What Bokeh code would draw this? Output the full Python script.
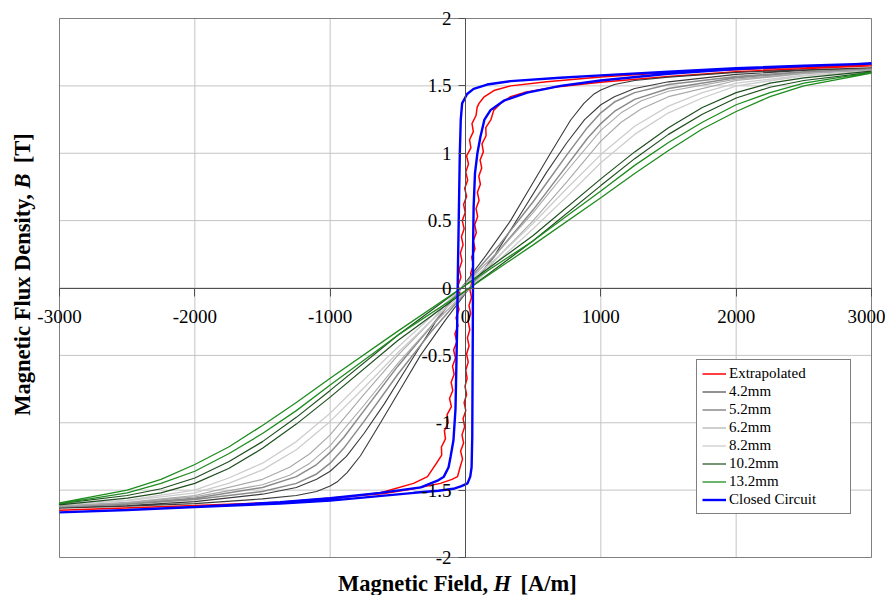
import math
from bokeh.plotting import figure
from bokeh.models import (FixedTicker, CustomJSTickFormatter, Label, Legend,
                          LegendItem, Range1d)
from bokeh.embed import file_html
from bokeh.resources import INLINE

# ---------------- data ----------------
x_ticks = [-3000, -2000, -1000, 0, 1000, 2000, 3000]
y_ticks = [-2, -1.5, -1, -0.5, 0, 0.5, 1, 1.5, 2]

series_names = ["Extrapolated", "4.2mm", "5.2mm", "6.2mm", "8.2mm",
                "10.2mm", "13.2mm", "Closed Circuit"]

# Extrapolated (red)
ext_desc_H = [3000, 2500, 2000, 1500, 1000, 600, 333, 210, 135, 100, 86,
              78, 48, 58, 30, 40, 8, 22, 2, 16, -6, 8, -14, -2, -24, -10, -30,
              -18, -38, -26, -46, -34, -54, -42, -62, -48, -70, -56, -78, -64,
              -88, -74, -96, -84, -106, -94, -118, -104, -136, -128, -156, -148,
              -178, -176, -214,
              -281, -384, -628, -1123, -2000, -3000]
ext_desc_B = [1.655, 1.64, 1.62, 1.60, 1.565, 1.53, 1.50, 1.465, 1.416, 1.37, 1.34,
              1.28, 1.22, 1.16, 1.10, 1.04, 0.98, 0.92, 0.86, 0.80, 0.74, 0.68,
              0.62, 0.56, 0.50, 0.44, 0.38, 0.32, 0.26, 0.20, 0.14, 0.08, 0.02,
              -0.04, -0.10, -0.16, -0.22, -0.28, -0.34, -0.40, -0.46, -0.52,
              -0.58, -0.64, -0.70, -0.76, -0.82, -0.88, -0.94, -1.00, -1.06,
              -1.12, -1.18, -1.24, -1.30,
              -1.40, -1.45, -1.52, -1.58, -1.615, -1.65]
ext_asc_H = [-3000, -2000, -1370, -600, -384, -185, -100, -59,
             -40, -22, -36, -14, -26, -6, -18, 2, -10, 8, -4, 12, 2, 20, 8, 26,
             14, 32, 20, 38, 26, 44, 32, 50, 38, 58, 46, 70, 58, 80, 68, 90, 78,
             100, 88, 110, 98, 120, 108, 132, 122, 152, 150, 188,
             209, 259, 333, 431, 653, 998, 1500, 2000, 3000]
ext_asc_B = [-1.65, -1.615, -1.59, -1.525, -1.49, -1.45, -1.42, -1.40,
             -1.33, -1.27, -1.21, -1.15, -1.09, -1.03, -0.97, -0.91, -0.85,
             -0.79, -0.73, -0.67, -0.61, -0.55, -0.49, -0.43, -0.37, -0.31,
             -0.25, -0.19, -0.13, -0.07, -0.01, 0.05, 0.11, 0.17, 0.23, 0.29,
             0.35, 0.41, 0.47, 0.53, 0.59, 0.65, 0.71, 0.77, 0.83, 0.89, 0.95,
             1.01, 1.07, 1.13, 1.19, 1.25,
             1.32, 1.37, 1.42, 1.45, 1.49, 1.527, 1.57, 1.605, 1.65]

# 4.2mm
g42_desc_H = [3000, 2500, 2000, 1500, 1250, 1100, 1000, 950, 875, 776, 628, 480,
              333, 150, -30, -220, -420, -600, -750, -880, -1000, -1100, -1250,
              -1500, -2000, -2500, -3000]
g42_desc_B = [1.635, 1.62, 1.60, 1.565, 1.54, 1.51, 1.47, 1.44, 1.37, 1.245, 1.0,
              0.75, 0.5, 0.24, 0, -0.25, -0.57, -0.86, -1.08, -1.25, -1.36,
              -1.42, -1.48, -1.53, -1.585, -1.615, -1.63]
g42_asc_H = [-3000, -2500, -2000, -1500, -1250, -1100, -1000, -950, -875, -776,
             -628, -480, -333, -150, 30, 220, 420, 600, 750, 880, 1000, 1100,
             1250, 1500, 2000, 2500, 3000]
g42_asc_B = [-1.635, -1.62, -1.60, -1.565, -1.54, -1.51, -1.47, -1.44, -1.37,
             -1.245, -1.0, -0.75, -0.5, -0.24, 0, 0.25, 0.57, 0.86, 1.08, 1.25,
             1.36, 1.42, 1.48, 1.53, 1.585, 1.615, 1.63]

# 5.2mm
g52_desc_H = [3000, 2500, 2000, 1500, 1250, 1100, 1000, 900, 750, 500, 250, -30,
              -250, -500, -750, -900, -1000, -1100, -1250, -1500, -2000, -2500, -3000]
g52_desc_B = [1.625, 1.605, 1.57, 1.51, 1.45, 1.38, 1.30, 1.19, 0.99, 0.64, 0.32,
              0, -0.28, -0.58, -0.91, -1.11, -1.22, -1.31, -1.40, -1.48, -1.56,
              -1.60, -1.62]
g52_asc_H = [-3000, -2500, -2000, -1500, -1250, -1100, -1000, -900, -750, -500,
             -250, 30, 250, 500, 750, 900, 1000, 1100, 1250, 1500, 2000, 2500, 3000]
g52_asc_B = [-1.625, -1.605, -1.57, -1.51, -1.45, -1.38, -1.30, -1.19, -0.99,
             -0.64, -0.32, 0, 0.28, 0.58, 0.91, 1.11, 1.22, 1.31, 1.40, 1.48,
             1.56, 1.60, 1.62]

# 6.2mm
g62_desc_H = [3000, 2500, 2000, 1500, 1300, 1150, 1000, 750, 500, 250, -30, -250,
              -500, -750, -1000, -1150, -1300, -1500, -2000, -2500, -3000]
g62_desc_B = [1.62, 1.595, 1.55, 1.46, 1.39, 1.30, 1.17, 0.87, 0.56, 0.28, 0,
              -0.24, -0.50, -0.79, -1.09, -1.23, -1.33, -1.42, -1.54, -1.59, -1.615]
g62_asc_H = [-3000, -2500, -2000, -1500, -1300, -1150, -1000, -750, -500, -250,
             30, 250, 500, 750, 1000, 1150, 1300, 1500, 2000, 2500, 3000]
g62_asc_B = [-1.62, -1.595, -1.55, -1.46, -1.39, -1.30, -1.17, -0.87, -0.56,
             -0.28, 0, 0.24, 0.50, 0.79, 1.09, 1.23, 1.33, 1.42, 1.54, 1.59, 1.615]

# 8.2mm
g82_desc_H = [3000, 2500, 2000, 1750, 1500, 1250, 1000, 750, 500, 250, -30, -250,
              -500, -750, -1000, -1250, -1500, -1750, -2000, -2500, -3000]
g82_desc_B = [1.61, 1.58, 1.52, 1.45, 1.35, 1.20, 0.99, 0.74, 0.48, 0.24, 0,
              -0.21, -0.44, -0.68, -0.93, -1.14, -1.30, -1.41, -1.50, -1.575, -1.605]
g82_asc_H = [-3000, -2500, -2000, -1750, -1500, -1250, -1000, -750, -500, -250,
             30, 250, 500, 750, 1000, 1250, 1500, 1750, 2000, 2500, 3000]
g82_asc_B = [-1.61, -1.58, -1.52, -1.45, -1.35, -1.20, -0.99, -0.74, -0.48,
             -0.24, 0, 0.21, 0.44, 0.68, 0.93, 1.14, 1.30, 1.41, 1.50, 1.575, 1.605]

# 10.2mm
g102_desc_H = [3000, 2500, 2250, 2000, 1750, 1500, 1250, 1000, 500, -30, -500,
               -1000, -1250, -1500, -1750, -2000, -2250, -2500, -3000]
g102_desc_B = [1.61, 1.56, 1.52, 1.45, 1.34, 1.19, 1.01, 0.81, 0.39, 0, -0.35,
               -0.76, -0.96, -1.14, -1.29, -1.41, -1.49, -1.54, -1.60]
g102_asc_H = [-3000, -2500, -2250, -2000, -1750, -1500, -1250, -1000, -500, 30,
              500, 1000, 1250, 1500, 1750, 2000, 2250, 2500, 3000]
g102_asc_B = [-1.61, -1.56, -1.52, -1.45, -1.34, -1.19, -1.01, -0.81, -0.39, 0,
              0.35, 0.76, 0.96, 1.14, 1.29, 1.41, 1.49, 1.54, 1.60]

# 13.2mm
g132_desc_H = [3000, 2500, 2250, 2000, 1750, 1500, 1250, 1000, 500, -30, -500,
               -1000, -1250, -1500, -1750, -2000, -2250, -2500, -3000]
g132_desc_B = [1.60, 1.52, 1.45, 1.36, 1.23, 1.08, 0.91, 0.72, 0.35, 0, -0.32,
               -0.67, -0.85, -1.02, -1.18, -1.31, -1.42, -1.50, -1.595]
g132_asc_H = [-3000, -2500, -2250, -2000, -1750, -1500, -1250, -1000, -500, 30,
              500, 1000, 1250, 1500, 1750, 2000, 2250, 2500, 3000]
g132_asc_B = [-1.60, -1.52, -1.45, -1.36, -1.23, -1.08, -0.91, -0.72, -0.35, 0,
              0.32, 0.67, 0.85, 1.02, 1.18, 1.31, 1.42, 1.50, 1.595]

# Closed circuit (blue)
cc_desc_H = [3000, 2500, 2000, 1500, 1000, 700, 333, 160, 60, 12, -25, -35, -42,
             -50, -55, -58, -62, -68, -74, -89, -110, -125, -160, -207, -330,
             -630, -1000, -1370, -2000, -2500, -3000]
cc_desc_B = [1.665, 1.65, 1.632, 1.605, 1.578, 1.56, 1.535, 1.51, 1.478, 1.44,
             1.37, 1.25, 1.0, 0.5, 0.2, 0, -0.3, -0.6, -0.9, -1.13, -1.25, -1.33,
             -1.40, -1.43, -1.48, -1.52, -1.56, -1.59, -1.625, -1.648, -1.665]
cc_asc_H = [-3000, -2500, -2000, -1370, -1000, -380, -200, -90, -30, 15, 35, 45,
            50, 52, 54, 55, 56, 60, 70, 88, 110, 140, 185, 283, 456, 702, 998,
            1500, 2000, 2500, 3000]
cc_asc_B = [-1.665, -1.648, -1.625, -1.60, -1.578, -1.52, -1.505, -1.49, -1.47,
            -1.45, -1.40, -1.33, -1.1, -0.7, -0.3, 0, 0.3, 0.6, 0.85, 1.0, 1.12,
            1.25, 1.32, 1.39, 1.45, 1.50, 1.54, 1.59, 1.625, 1.648, 1.665]

loops = [
    (ext_desc_H + ext_asc_H, ext_desc_B + ext_asc_B),
    (g42_desc_H + g42_asc_H, g42_desc_B + g42_asc_B),
    (g52_desc_H + g52_asc_H, g52_desc_B + g52_asc_B),
    (g62_desc_H + g62_asc_H, g62_desc_B + g62_asc_B),
    (g82_desc_H + g82_asc_H, g82_desc_B + g82_asc_B),
    (g102_desc_H + g102_asc_H, g102_desc_B + g102_asc_B),
    (g132_desc_H + g132_asc_H, g132_desc_B + g132_asc_B),
    (cc_desc_H + cc_asc_H, cc_desc_B + cc_asc_B),
]

# ---------------- styling ----------------
colors = ["#ff0000", "#3a3a3a", "#8a8a8a", "#a8a8a8", "#cdcdcd",
          "#1f4f1f", "#1e8c1e", "#0000ff"]
widths = [1.5, 1.1, 1.5, 1.1, 1.3, 1.2, 1.3, 2.4]
SERIF = "Liberation Serif"
TITLE_SIZE = "22.5px"

W, H = 885, 595
# plot area in pixels: left 59, right 871, top 18, bottom 557
PX_X = 812 / 6000.0
PX_Y = 539 / 4.0
x_lo = -3000 - 59 / PX_X
x_hi = 3000 + (W - 871) / PX_X
y_hi = 2 + 18 / PX_Y
y_lo = -2 - (H - 557) / PX_Y

p = figure(width=W, height=H, output_backend="svg", toolbar_location=None,
           x_range=Range1d(x_lo, x_hi), y_range=Range1d(y_lo, y_hi),
           min_border=0)
p.background_fill_color = "white"
p.border_fill_color = "white"
p.outline_line_color = None
p.grid.visible = False

# gridlines and plot-area border from the tick lists
nx, ny = len(x_ticks), len(y_ticks)
p.segment(x0=x_ticks, y0=[y_ticks[0]] * nx, x1=x_ticks, y1=[y_ticks[-1]] * nx,
          line_color="#c4c4c4", line_width=1)
p.segment(x0=[x_ticks[0]] * ny, y0=y_ticks, x1=[x_ticks[-1]] * ny, y1=y_ticks,
          line_color="#c4c4c4", line_width=1)
p.quad(left=[x_ticks[0]], right=[x_ticks[-1]], bottom=[y_ticks[0]], top=[y_ticks[-1]],
       fill_color=None, line_color="#808080", line_width=1)

# central axes
p.xaxis.fixed_location = 0
p.yaxis.fixed_location = 0
p.xaxis.bounds = (x_ticks[0], x_ticks[-1])
p.yaxis.bounds = (y_ticks[0], y_ticks[-1])
p.xaxis.ticker = FixedTicker(ticks=x_ticks)
p.yaxis.ticker = FixedTicker(ticks=y_ticks)
fmt = CustomJSTickFormatter(code="return String(tick)")
for ax in (p.xaxis[0], p.yaxis[0]):
    ax.formatter = fmt
    ax.axis_line_color = "#505050"
    ax.axis_line_width = 1
    ax.major_tick_line_color = "#505050"
    ax.major_tick_in = 0
    ax.minor_tick_line_color = None
    ax.major_label_text_font = SERIF
    ax.major_label_text_font_size = "19px"
    ax.major_label_text_color = "black"
p.xaxis.major_tick_out = 8
p.xaxis.major_label_standoff = 14
p.yaxis.major_tick_out = 7
p.yaxis.major_label_standoff = 7

items = []
for name, (hh, bb), c, w in zip(series_names, loops, colors, widths):
    r = p.line(hh, bb, line_color=c, line_width=w)
    items.append(LegendItem(label=name, renderers=[r]))

legend = Legend(items=items, location=(696, 81))
legend.border_line_color = "black"
legend.border_line_width = 1
legend.background_fill_color = "white"
legend.background_fill_alpha = 1
legend.label_text_font = SERIF
legend.label_text_font_size = "15px"
legend.label_text_color = "black"
legend.glyph_width = 24
legend.glyph_height = 15
legend.label_height = 15
legend.spacing = 1
legend.padding = 5
legend.margin = 0
legend.label_standoff = 3
legend.label_width = 116
p.add_layout(legend)


def sx(px):   # page pixel column -> data x
    return (px - 465) / PX_X


def sy(py):   # page pixel row -> data y
    return (287.5 - py) / PX_Y


def lab(text, x, y, style, align="left", angle=0.0, baseline="alphabetic"):
    p.add_layout(Label(x=x, y=y, text=text, text_font=SERIF, text_font_style=style,
                       text_font_size=TITLE_SIZE, text_color="black", angle=angle,
                       text_align=align, text_baseline=baseline))


# x title (first piece right-aligned so it always ends before the italic H)
XB = 583
lab("Magnetic Field,", sx(487.5), sy(XB), "bold", align="right")
lab("H", sx(493), sy(XB), "bold italic")
lab("[A/m]", sx(520), sy(XB), "bold")

# y title (rotated, reading upward)
R = math.pi / 2
lab("Magnetic Flux Density,", sx(22), sy(193.5), "bold", align="right", angle=R,
    baseline="middle")
lab("B", sx(22), sy(188), "bold italic", angle=R, baseline="middle")
lab("[T]", sx(22), sy(162.7), "bold", angle=R, baseline="middle")

open("out.html", "w").write(file_html(p, INLINE))
